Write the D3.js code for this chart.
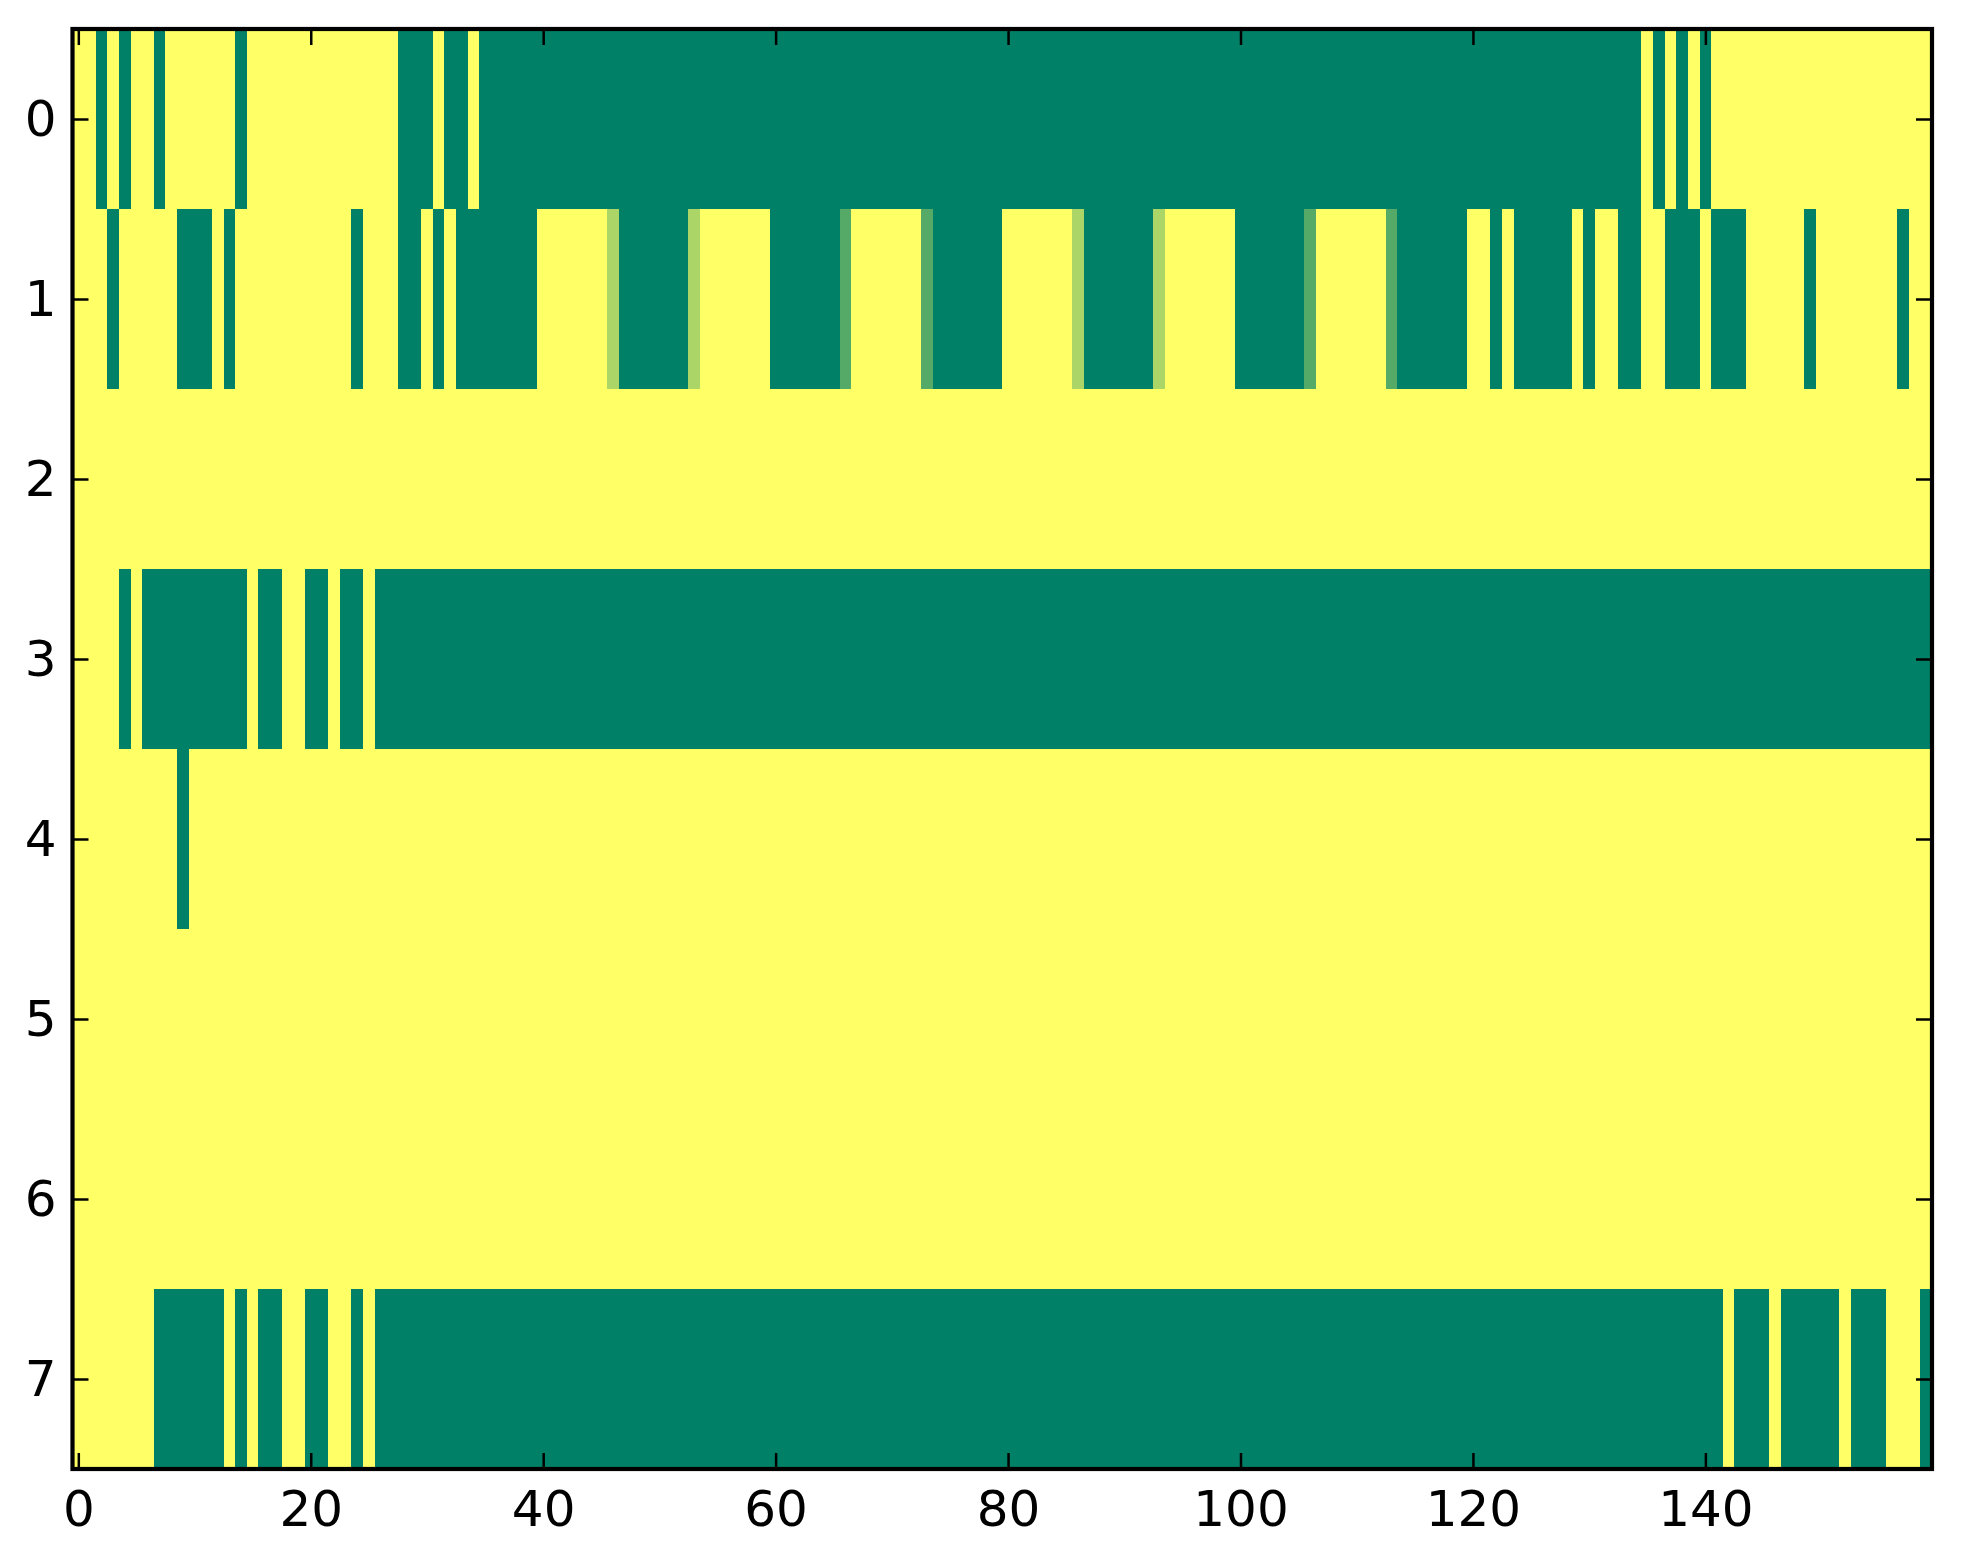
<!DOCTYPE html>
<html>
<head>
<meta charset="utf-8">
<script src="https://cdn.jsdelivr.net/npm/d3@7"></script>
<style>
  html, body { margin: 0; padding: 0; background: #ffffff; }
  svg { display: block; }
  text { font-family: "DejaVu Sans", sans-serif; }
</style>
</head>
<body>
<svg id="chart" width="1963" height="1564"></svg>
<script>
// Row labels (y axis) and x tick labels
const rowLabels = [0, 1, 2, 3, 4, 5, 6, 7];
const xTickValues = [0, 20, 40, 60, 80, 100, 120, 140];
const nCols = 160;

// Cell values, one array per row (0 = green end, 1 = yellow end of the "summer" colormap)
const row0 = [
  1,1,0,1,0,1,1,0,1,1, 1,1,1,1,0,1,1,1,1,1,
  1,1,1,1,1,1,1,1,0,0, 0,1,0,0,1,0,0,0,0,0,
  0,0,0,0,0,0,0,0,0,0, 0,0,0,0,0,0,0,0,0,0,
  0,0,0,0,0,0,0,0,0,0, 0,0,0,0,0,0,0,0,0,0,
  0,0,0,0,0,0,0,0,0,0, 0,0,0,0,0,0,0,0,0,0,
  0,0,0,0,0,0,0,0,0,0, 0,0,0,0,0,0,0,0,0,0,
  0,0,0,0,0,0,0,0,0,0, 0,0,0,0,0,1,0,1,0,1,
  0,1,1,1,1,1,1,1,1,1, 1,1,1,1,1,1,1,1,1,1
];
const row1 = [
  1,1,1,0,1,1,1,1,1,0, 0,0,1,0,1,1,1,1,1,1,
  1,1,1,1,0,1,1,1,0,0, 1,0,1,0,0,0,0,0,0,0,
  1,1,1,1,1,1,0.67,0,0,0, 0,0,0,0.67,1,1,1,1,1,1,
  0,0,0,0,0,0,0.33,1,1,1, 1,1,1,0.33,0,0,0,0,0,0,
  1,1,1,1,1,1,0.67,0,0,0, 0,0,0,0.67,1,1,1,1,1,1,
  0,0,0,0,0,0,0.33,1,1,1, 1,1,1,0.33,0,0,0,0,0,0,
  1,1,0,1,0,0,0,0,0,1, 0,1,1,0,0,1,1,0,0,0,
  1,0,0,0,1,1,1,1,1,0, 1,1,1,1,1,1,1,0,1,1
];
const row2 = [
  1,1,1,1,1,1,1,1,1,1, 1,1,1,1,1,1,1,1,1,1,
  1,1,1,1,1,1,1,1,1,1, 1,1,1,1,1,1,1,1,1,1,
  1,1,1,1,1,1,1,1,1,1, 1,1,1,1,1,1,1,1,1,1,
  1,1,1,1,1,1,1,1,1,1, 1,1,1,1,1,1,1,1,1,1,
  1,1,1,1,1,1,1,1,1,1, 1,1,1,1,1,1,1,1,1,1,
  1,1,1,1,1,1,1,1,1,1, 1,1,1,1,1,1,1,1,1,1,
  1,1,1,1,1,1,1,1,1,1, 1,1,1,1,1,1,1,1,1,1,
  1,1,1,1,1,1,1,1,1,1, 1,1,1,1,1,1,1,1,1,1
];
const row3 = [
  1,1,1,1,0,1,0,0,0,0, 0,0,0,0,0,1,0,0,1,1,
  0,0,1,0,0,1,0,0,0,0, 0,0,0,0,0,0,0,0,0,0,
  0,0,0,0,0,0,0,0,0,0, 0,0,0,0,0,0,0,0,0,0,
  0,0,0,0,0,0,0,0,0,0, 0,0,0,0,0,0,0,0,0,0,
  0,0,0,0,0,0,0,0,0,0, 0,0,0,0,0,0,0,0,0,0,
  0,0,0,0,0,0,0,0,0,0, 0,0,0,0,0,0,0,0,0,0,
  0,0,0,0,0,0,0,0,0,0, 0,0,0,0,0,0,0,0,0,0,
  0,0,0,0,0,0,0,0,0,0, 0,0,0,0,0,0,0,0,0,0
];
const row4 = [
  1,1,1,1,1,1,1,1,1,0, 1,1,1,1,1,1,1,1,1,1,
  1,1,1,1,1,1,1,1,1,1, 1,1,1,1,1,1,1,1,1,1,
  1,1,1,1,1,1,1,1,1,1, 1,1,1,1,1,1,1,1,1,1,
  1,1,1,1,1,1,1,1,1,1, 1,1,1,1,1,1,1,1,1,1,
  1,1,1,1,1,1,1,1,1,1, 1,1,1,1,1,1,1,1,1,1,
  1,1,1,1,1,1,1,1,1,1, 1,1,1,1,1,1,1,1,1,1,
  1,1,1,1,1,1,1,1,1,1, 1,1,1,1,1,1,1,1,1,1,
  1,1,1,1,1,1,1,1,1,1, 1,1,1,1,1,1,1,1,1,1
];
const row5 = [
  1,1,1,1,1,1,1,1,1,1, 1,1,1,1,1,1,1,1,1,1,
  1,1,1,1,1,1,1,1,1,1, 1,1,1,1,1,1,1,1,1,1,
  1,1,1,1,1,1,1,1,1,1, 1,1,1,1,1,1,1,1,1,1,
  1,1,1,1,1,1,1,1,1,1, 1,1,1,1,1,1,1,1,1,1,
  1,1,1,1,1,1,1,1,1,1, 1,1,1,1,1,1,1,1,1,1,
  1,1,1,1,1,1,1,1,1,1, 1,1,1,1,1,1,1,1,1,1,
  1,1,1,1,1,1,1,1,1,1, 1,1,1,1,1,1,1,1,1,1,
  1,1,1,1,1,1,1,1,1,1, 1,1,1,1,1,1,1,1,1,1
];
const row6 = [
  1,1,1,1,1,1,1,1,1,1, 1,1,1,1,1,1,1,1,1,1,
  1,1,1,1,1,1,1,1,1,1, 1,1,1,1,1,1,1,1,1,1,
  1,1,1,1,1,1,1,1,1,1, 1,1,1,1,1,1,1,1,1,1,
  1,1,1,1,1,1,1,1,1,1, 1,1,1,1,1,1,1,1,1,1,
  1,1,1,1,1,1,1,1,1,1, 1,1,1,1,1,1,1,1,1,1,
  1,1,1,1,1,1,1,1,1,1, 1,1,1,1,1,1,1,1,1,1,
  1,1,1,1,1,1,1,1,1,1, 1,1,1,1,1,1,1,1,1,1,
  1,1,1,1,1,1,1,1,1,1, 1,1,1,1,1,1,1,1,1,1
];
const row7 = [
  1,1,1,1,1,1,1,0,0,0, 0,0,0,1,0,1,0,0,1,1,
  0,0,1,1,0,1,0,0,0,0, 0,0,0,0,0,0,0,0,0,0,
  0,0,0,0,0,0,0,0,0,0, 0,0,0,0,0,0,0,0,0,0,
  0,0,0,0,0,0,0,0,0,0, 0,0,0,0,0,0,0,0,0,0,
  0,0,0,0,0,0,0,0,0,0, 0,0,0,0,0,0,0,0,0,0,
  0,0,0,0,0,0,0,0,0,0, 0,0,0,0,0,0,0,0,0,0,
  0,0,0,0,0,0,0,0,0,0, 0,0,0,0,0,0,0,0,0,0,
  0,0,1,0,0,0,1,0,0,0, 0,0,1,0,0,0,1,1,1,0
];
const rows = [row0, row1, row2, row3, row4, row5, row6, row7];

// Layout
const W = 1963, H = 1564;
const plot = { left: 72.5, right: 1932, top: 29, bottom: 1469 };
const tickLen = 16;
const fontSize = 50;

const svg = d3.select("#chart");

const x = d3.scaleLinear().domain([-0.5, nCols - 0.5]).range([plot.left, plot.right]);
const y = d3.scaleLinear().domain([-0.5, rowLabels.length - 0.5]).range([plot.top, plot.bottom]);
// "summer" colormap
const color = d3.scaleLinear().domain([0, 1]).range(["#008066", "#ffff66"]).interpolate(d3.interpolateRgb);

const cells = [];
rows.forEach((vals, r) => vals.forEach((v, c) => cells.push({ r, c, v })));

svg.append("g")
  .selectAll("rect")
  .data(cells)
  .join("rect")
  .attr("x", d => x(d.c - 0.5))
  .attr("y", d => y(d.r - 0.5))
  .attr("width", d => x(d.c + 0.5) - x(d.c - 0.5) + 0.6)
  .attr("height", d => y(d.r + 0.5) - y(d.r - 0.5) + 0.6)
  .attr("fill", d => color(d.v))
  .attr("shape-rendering", "crispEdges");

// Axes (ticks pointing inward)
function styleAxis(g) {
  g.select(".domain").remove();
  g.selectAll(".tick line").attr("stroke", "#000").attr("stroke-width", 2.5);
  g.selectAll(".tick text").attr("font-size", fontSize).attr("fill", "#000")
    .attr("font-family", "DejaVu Sans, sans-serif");
}

svg.append("g")
  .attr("transform", `translate(0,${plot.bottom})`)
  .call(d3.axisBottom(x).tickValues(xTickValues).tickSizeInner(-tickLen).tickSizeOuter(0).tickPadding(21.5).tickFormat(d3.format("d")))
  .call(styleAxis);

svg.append("g")
  .attr("transform", `translate(0,${plot.top})`)
  .call(d3.axisTop(x).tickValues(xTickValues).tickSizeInner(-tickLen).tickSizeOuter(0).tickFormat(""))
  .call(styleAxis);

svg.append("g")
  .attr("transform", `translate(${plot.left},0)`)
  .call(d3.axisLeft(y).tickValues(rowLabels).tickSizeInner(-tickLen).tickSizeOuter(0).tickPadding(16).tickFormat(d3.format("d")))
  .call(styleAxis);

svg.append("g")
  .attr("transform", `translate(${plot.right},0)`)
  .call(d3.axisRight(y).tickValues(rowLabels).tickSizeInner(-tickLen).tickSizeOuter(0).tickFormat(""))
  .call(styleAxis);

// Frame
svg.append("rect")
  .attr("x", plot.left).attr("y", plot.top)
  .attr("width", plot.right - plot.left).attr("height", plot.bottom - plot.top)
  .attr("fill", "none").attr("stroke", "#000").attr("stroke-width", 4.2);
</script>
</body>
</html>
